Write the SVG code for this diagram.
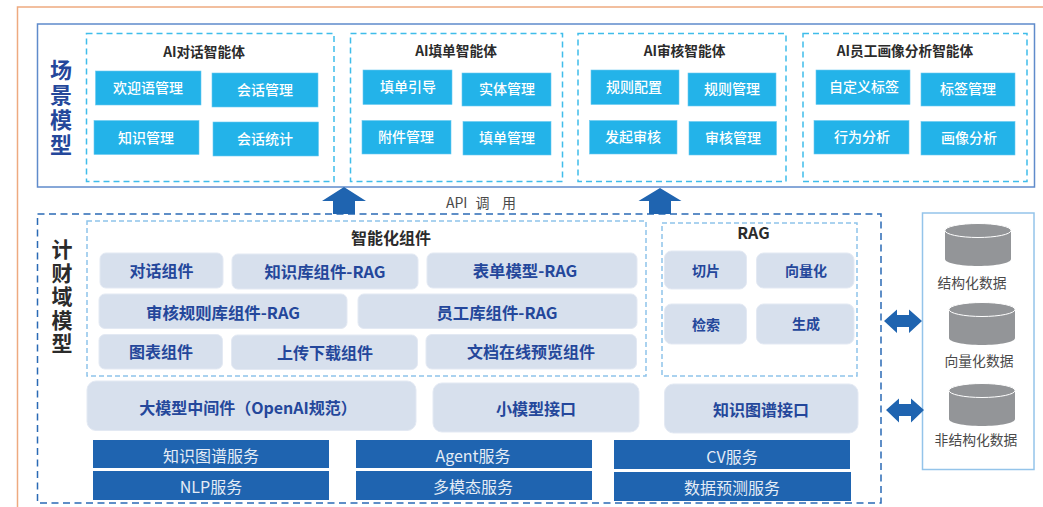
<svg xmlns="http://www.w3.org/2000/svg" width="1043" height="507" viewBox="0 0 1043 507">
<style>
text{font-family:"Noto Sans CJK SC","Noto Sans",sans-serif;text-anchor:middle;dominant-baseline:central}
.frame{fill:none;stroke:#eeaa80;stroke-width:1.5}
.outer{fill:#fff;stroke:#5f8bcb;stroke-width:1.5}
.dash{fill:none;stroke:#3fbdea;stroke-width:1.5;stroke-dasharray:6 4}
.dash2{fill:none;stroke:#8fc4ea;stroke-width:1.5;stroke-dasharray:5 3}
.dash3{fill:none;stroke:#2a6ab5;stroke-width:1.5;stroke-dasharray:7 4.5}
.t{fill:#23b3e9;stroke:#6ccaf0;stroke-width:.6}
.tt{fill:#fff;font-size:14px;font-weight:500}
.h{fill:#2b2b2b;font-size:13.7px;font-weight:700}
.h2{fill:#2b2b2b;font-size:16px;font-weight:700}
.c{fill:#d7e0ed;stroke:#e3e9f3;stroke-width:1}
.ct{fill:#24479b;font-size:16px;font-weight:700}
.rg{fill:#24479b;font-size:16.4px;font-weight:700}
.cs{fill:#24479b;font-size:14px;font-weight:700}
.d{fill:#1f64b0}
.dt{fill:#e4ecf6;font-size:16px;font-weight:400}
.side1,.side2{writing-mode:vertical-rl;text-anchor:start;font-weight:700}
.side1{fill:#24479b;font-size:22px;letter-spacing:3px}
.side2{fill:#2b2b2b;font-size:21px;letter-spacing:2.6px}
.arr{fill:#1f64b0}
.cyl{fill:#939598}
.cyltop{fill:#939598;stroke:#fff;stroke-width:1}
.lbl{fill:#4a4a4a;font-size:13.8px}
.api{fill:#4a4a4a;font-size:14px;text-anchor:start}
</style>
<defs>
<g id="cylinder">
<path class="cyl" d="M0 7V36C0 40 15 43 33 43S66 40 66 36V7Z"/>
<ellipse class="cyltop" cx="33" cy="7.5" rx="33" ry="7"/>
</g>
</defs>
<path class="frame" d="M17.500 507V7H1043"/>
<rect class="outer" x="37.500" y="24" width="997" height="163"/>
<text class="side1" x="61" y="59">场景模型</text>

<g id="agent-chat">
<rect class="dash" x="86.500" y="33.500" width="247.500" height="148"/>
<text class="h" x="204" y="51">AI对话智能体</text>
<rect class="t" x="95.500" y="71" width="105.500" height="34"/><text class="tt" x="148" y="87">欢迎语管理</text>
<rect class="t" x="212" y="73" width="106" height="34"/><text class="tt" x="265" y="89">会话管理</text>
<rect class="t" x="94" y="120.500" width="105" height="34"/><text class="tt" x="146" y="137">知识管理</text>
<rect class="t" x="213" y="122" width="105.500" height="34"/><text class="tt" x="265" y="138">会话统计</text>
</g>
<g id="agent-form">
<rect class="dash" x="350.500" y="33.500" width="212" height="148"/>
<text class="h" x="456" y="50">AI填单智能体</text>
<rect class="t" x="363" y="70" width="89" height="34.500"/><text class="tt" x="408" y="86">填单引导</text>
<rect class="t" x="462" y="73" width="89" height="33"/><text class="tt" x="507" y="88">实体管理</text>
<rect class="t" x="362" y="120.500" width="89" height="33.500"/><text class="tt" x="406" y="136">附件管理</text>
<rect class="t" x="463" y="121.500" width="88" height="33.500"/><text class="tt" x="507" y="137">填单管理</text>
</g>
<g id="agent-review">
<rect class="dash" x="578" y="33.500" width="208" height="148"/>
<text class="h" x="684.500" y="50">AI审核智能体</text>
<rect class="t" x="591" y="70" width="88" height="34.500"/><text class="tt" x="634" y="86">规则配置</text>
<rect class="t" x="688" y="73" width="88" height="33"/><text class="tt" x="732" y="88">规则管理</text>
<rect class="t" x="589.500" y="120.500" width="87.500" height="33.500"/><text class="tt" x="633" y="136">发起审核</text>
<rect class="t" x="689" y="121.500" width="87.500" height="33.500"/><text class="tt" x="733" y="137">审核管理</text>
</g>
<g id="agent-employee">
<rect class="dash" x="803" y="33.500" width="224" height="148"/>
<text class="h" x="905" y="50">AI员工画像分析智能体</text>
<rect class="t" x="816" y="70" width="94" height="34.500"/><text class="tt" x="864" y="86">自定义标签</text>
<rect class="t" x="921" y="73" width="94" height="33"/><text class="tt" x="968" y="88">标签管理</text>
<rect class="t" x="814" y="120.500" width="95" height="33.500"/><text class="tt" x="862" y="136">行为分析</text>
<rect class="t" x="921" y="121.500" width="94" height="33.500"/><text class="tt" x="969" y="137">画像分析</text>
</g>

<text id="api" class="api"><tspan x="446" y="202">API</tspan><tspan x="475.500" y="202">调</tspan><tspan x="502" y="202">用</tspan></text>

<g id="compute">
<rect class="dash3" x="37.500" y="214" width="843.500" height="289"/>
<text class="side2" x="62" y="238.500">计财域模型</text>
</g>
<g id="components">
<rect class="dash2" x="87" y="221" width="559" height="155"/>
<text class="h2" x="391" y="237">智能化组件</text>
<rect class="c" x="100" y="253" width="123" height="35" rx="6"/><text class="ct" x="161.500" y="270">对话组件</text>
<rect class="c" x="232" y="254" width="186" height="35" rx="6"/><text class="rg" x="325" y="271">知识库组件-RAG</text>
<rect class="c" x="427" y="253" width="210" height="35" rx="6"/><text class="rg" x="525" y="270">表单模型-RAG</text>
<rect class="c" x="99" y="294" width="248" height="34.500" rx="6"/><text class="rg" x="223" y="312">审核规则库组件-RAG</text>
<rect class="c" x="358" y="294" width="279" height="34.500" rx="6"/><text class="rg" x="497" y="312">员工库组件-RAG</text>
<rect class="c" x="99" y="334.500" width="123.500" height="34.500" rx="6"/><text class="ct" x="161" y="351">图表组件</text>
<rect class="c" x="231.500" y="335" width="186" height="34.500" rx="6"/><text class="ct" x="325" y="352">上传下载组件</text>
<rect class="c" x="426" y="334.500" width="210.500" height="34.500" rx="6"/><text class="ct" x="531" y="351">文档在线预览组件</text>
</g>
<g id="rag">
<rect class="dash2" x="662" y="223" width="195" height="153"/>
<text class="h2" x="753.500" y="232">RAG</text>
<rect class="c" x="664.500" y="251" width="82" height="38" rx="7"/><text class="cs" x="706" y="270">切片</text>
<rect class="c" x="756.500" y="253" width="97.500" height="35" rx="7"/><text class="cs" x="806" y="270">向量化</text>
<rect class="c" x="664.500" y="304" width="82" height="40" rx="7"/><text class="cs" x="706" y="324">检索</text>
<rect class="c" x="756.500" y="304" width="97.500" height="40" rx="7"/><text class="cs" x="806" y="323">生成</text>
</g>
<g id="middleware">
<rect class="c" x="87" y="381" width="329" height="49.500" rx="9"/><text class="ct" x="248" y="407">大模型中间件（OpenAI规范）</text>
<rect class="c" x="433" y="383" width="206" height="49" rx="9"/><text class="ct" x="536" y="408">小模型接口</text>
<rect class="c" x="664.500" y="384" width="193.500" height="49" rx="9"/><text class="ct" x="761" y="409">知识图谱接口</text>
</g>
<g id="services">
<rect class="d" x="93" y="440" width="236" height="28"/><text class="dt" x="211" y="455">知识图谱服务</text>
<rect class="d" x="93" y="471" width="236" height="29"/><text class="dt" x="211" y="486">NLP服务</text>
<rect class="d" x="356" y="440" width="236" height="28"/><text class="dt" x="473" y="455">Agent服务</text>
<rect class="d" x="356" y="471" width="236" height="29"/><text class="dt" x="473" y="486">多模态服务</text>
<rect class="d" x="614" y="440" width="236" height="29"/><text class="dt" x="732" y="456">CV服务</text>
<rect class="d" x="614" y="472" width="237" height="29"/><text class="dt" x="732" y="487">数据预测服务</text>
</g>
<g id="data-store">
<rect x="922.500" y="213" width="111.500" height="256.500" style="fill:#fff;stroke:#94c4ea;stroke-width:1.500"/>
<use href="#cylinder" x="945" y="223"/>
<text class="lbl" x="972" y="282">结构化数据</text>
<use href="#cylinder" x="949" y="302"/>
<text class="lbl" x="979" y="360">向量化数据</text>
<use href="#cylinder" x="949" y="383"/>
<text class="lbl" x="976" y="439">非结构化数据</text>
</g>
<g id="connectors">
<path class="arr" d="M344 187L366 201H355V214H333V201H322Z"/>
<path class="arr" d="M660 188L681.500 201H671V214H649V201H638.500Z"/>
<path class="arr" d="M884 321L897 309.500V315H909V309.500L922 321L909 333V327H897V333Z"/>
<path class="arr" d="M886 410L899 398.500V404H911V398.500L924 410L911 422.500V416H899V422.500Z"/>
</g>
</svg>
